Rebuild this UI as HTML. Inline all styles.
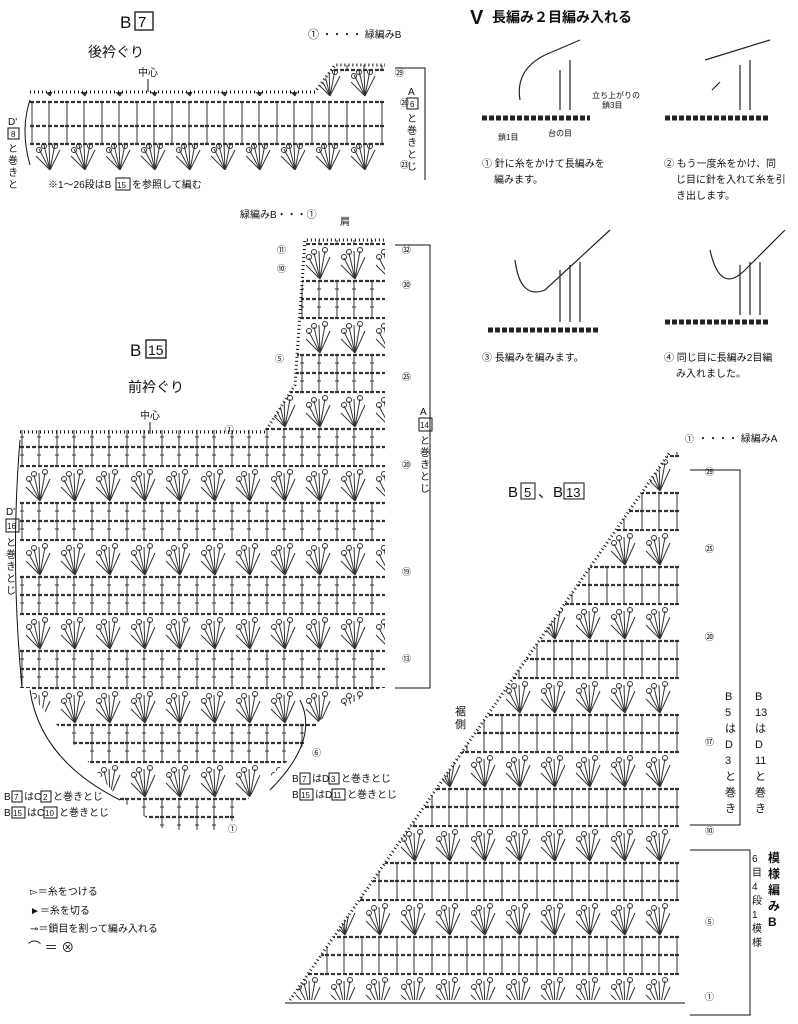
<!DOCTYPE html>
<html><head><meta charset="utf-8"><style>
body{margin:0;background:#fff;width:798px;height:1024px;overflow:hidden}
svg{display:block}
text{font-family:"Liberation Sans","Noto Sans CJK JP",sans-serif;fill:#111}
</style></head><body>
<svg width="798" height="1024" viewBox="0 0 798 1024" xmlns="http://www.w3.org/2000/svg">
<defs>
<pattern id="cp" x="20" y="465" width="35" height="74" patternUnits="userSpaceOnUse">
<g stroke="#333" stroke-width="1" fill="none">
<line x1="0" y1="1" x2="35" y2="1" stroke-dasharray="4 2" stroke-width="2.2"/>
<path d="M20 36 L6 22 M20 36 L9 15 M20 36 L14 10 M20 36 L19 8 M20 36 L25 8 M20 36 L30 14"/>
<circle cx="9" cy="14" r="2.5"/><circle cx="14" cy="9" r="2.5"/><circle cx="25" cy="7" r="2.5"/>
<line x1="0" y1="38" x2="35" y2="38" stroke-dasharray="4 2" stroke-width="2.2"/>
<line x1="0" y1="56" x2="35" y2="56" stroke-dasharray="4 2" stroke-width="2.2"/>
<path d="M2 38 V74 M19 38 V74 M0 46 H4 M17 46 H21 M0 64 H4 M17 64 H21"/>
</g></pattern>
<pattern id="cp2" x="290" y="455" width="35" height="74" patternUnits="userSpaceOnUse">
<g stroke="#333" stroke-width="1" fill="none">
<line x1="0" y1="1" x2="35" y2="1" stroke-dasharray="4 2" stroke-width="2.2"/>
<path d="M20 36 L6 22 M20 36 L9 15 M20 36 L14 10 M20 36 L19 8 M20 36 L25 8 M20 36 L30 14"/>
<circle cx="9" cy="14" r="2.5"/><circle cx="14" cy="9" r="2.5"/><circle cx="25" cy="7" r="2.5"/>
<line x1="0" y1="38" x2="35" y2="38" stroke-dasharray="4 2" stroke-width="2.2"/>
<line x1="0" y1="56" x2="35" y2="56" stroke-dasharray="4 2" stroke-width="2.2"/>
<path d="M2 38 V74 M19 38 V74"/>
</g></pattern>
<pattern id="cp7" x="30" y="100" width="35" height="74" patternUnits="userSpaceOnUse">
<g stroke="#333" stroke-width="1" fill="none">
<line x1="0" y1="2" x2="35" y2="2" stroke-dasharray="4 2" stroke-width="2.2"/>
<path d="M2 2 V26 M19 2 V26"/>
<line x1="0" y1="26" x2="35" y2="26" stroke-dasharray="4 2" stroke-width="2.2"/>
<line x1="0" y1="44" x2="35" y2="44" stroke-dasharray="4 2" stroke-width="2.2"/>
<path d="M2 26 V44 M19 26 V44"/>
<path d="M20 70 L6 56 M20 70 L9 49 M20 70 L14 45 M20 70 L19 44 M20 70 L25 44 M20 70 L30 50"/>
<circle cx="9" cy="50" r="2.5"/><circle cx="14" cy="46" r="2.5"/><circle cx="25" cy="46" r="2.5"/>
</g></pattern>
<clipPath id="c15"><polygon points="20,430 265,430 295,385 305,240 385,240 385,688 20,688"/></clipPath>
</defs>

<!-- B7 -->
<text x="120" y="28" font-size="17">B</text>
<rect x="135" y="12" width="18" height="18" fill="none" stroke="#111" stroke-width="1.3"/><text x="138" y="27" font-size="15">7</text>
<text x="88" y="57" font-size="14">後衿ぐり</text>
<text x="138" y="76" font-size="10">中心</text>
<line x1="148" y1="79" x2="148" y2="92" stroke="#111"/>
<text x="308" y="38" font-size="11">①</text><text x="322" y="38" font-size="10">・・・・ 緑編みB</text>
<polygon points="30,92 315,92 335,65 385,65 385,170 30,170" fill="url(#cp7)"/>
<g stroke="#111" stroke-width="1" fill="none">
<path d="M30 92 H315 L335 65 H385" stroke-dasharray="1 3" stroke-width="3"/>
<path d="M30 100 Q20 130 30 165"/>
<path d="M395 68 H425 V180"/>
</g>
<text x="395" y="76" font-size="9">㉙</text><text x="400" y="106" font-size="9">㉖</text><text x="400" y="168" font-size="9">㉓</text>
<text x="408" y="95" font-size="10">A</text><rect x="407" y="98" width="11" height="11" fill="none" stroke="#111"/><text x="410" y="107" font-size="8">6</text>
<text x="407" y="122" font-size="10">と</text><text x="407" y="134" font-size="10">巻</text><text x="407" y="146" font-size="10">き</text><text x="407" y="158" font-size="10">と</text><text x="407" y="170" font-size="10">じ</text>
<text x="8" y="125" font-size="10">D'</text><rect x="8" y="128" width="11" height="11" fill="none" stroke="#111"/><text x="11" y="137" font-size="8">8</text>
<text x="8" y="152" font-size="10">と</text><text x="8" y="164" font-size="10">巻</text><text x="8" y="176" font-size="10">き</text><text x="8" y="188" font-size="10">と</text>
<text x="48" y="188" font-size="10">※1～26段はB</text><rect x="116" y="178" width="14" height="12" fill="none" stroke="#111"/><text x="117" y="188" font-size="8">15</text><text x="132" y="188" font-size="10">を参照して編む</text>

<!-- B15 -->
<text x="240" y="218" font-size="10">緑編みB・・・①</text>
<text x="340" y="225" font-size="10">肩</text>
<text x="130" y="356" font-size="17">B</text>
<rect x="146" y="340" width="20" height="18" fill="none" stroke="#111" stroke-width="1.3"/><text x="148" y="355" font-size="14">15</text>
<text x="128" y="392" font-size="14">前衿ぐり</text>
<text x="140" y="419" font-size="10">中心</text>
<line x1="150" y1="422" x2="150" y2="434" stroke="#111"/>
<rect x="20" y="230" width="370" height="470" fill="url(#cp)" clip-path="url(#c15)"/>
<polygon points="30,688 380,688 320,720 300,750 255,790 225,830 165,830 120,800 70,740 35,700" fill="url(#cp)"/>
<g stroke="#111" stroke-width="1" fill="none">
<path d="M20 432 H265 L295 385 L305 240 H385" stroke-dasharray="1 3" stroke-width="3"/>
<path d="M20 440 Q10 560 22 688"/>
<path d="M395 245 H430 V688 H395"/>
<path d="M30 690 Q40 760 120 800 M300 700 Q320 740 270 790"/>
</g>
<text x="277" y="253" font-size="9">⑪</text><text x="277" y="272" font-size="9">⑩</text><text x="275" y="362" font-size="9">⑤</text>
<text x="402" y="253" font-size="9">㉜</text><text x="402" y="288" font-size="9">㉚</text><text x="402" y="380" font-size="9">㉕</text>
<text x="402" y="468" font-size="9">⑳</text><text x="402" y="575" font-size="9">⑲</text><text x="402" y="662" font-size="9">⑬</text>
<text x="225" y="433" font-size="9">①</text>
<text x="420" y="415" font-size="10">A</text><rect x="419" y="418" width="13" height="13" fill="none" stroke="#111"/><text x="420" y="428" font-size="8">14</text>
<text x="420" y="444" font-size="10">と</text><text x="420" y="456" font-size="10">巻</text><text x="420" y="468" font-size="10">き</text><text x="420" y="480" font-size="10">と</text><text x="420" y="492" font-size="10">じ</text>
<text x="6" y="515" font-size="10">D'</text><rect x="6" y="519" width="13" height="13" fill="none" stroke="#111"/><text x="7" y="529" font-size="8">16</text>
<text x="6" y="546" font-size="10">と</text><text x="6" y="558" font-size="10">巻</text><text x="6" y="570" font-size="10">き</text><text x="6" y="582" font-size="10">と</text><text x="6" y="594" font-size="10">じ</text>
<text x="312" y="756" font-size="9">⑥</text><text x="228" y="832" font-size="9">①</text>
<text x="4" y="800" font-size="10">B</text><rect x="12" y="791" width="10" height="11" fill="none" stroke="#111"/><text x="14" y="800" font-size="8">7</text><text x="24" y="800" font-size="10">はC</text><rect x="41" y="791" width="10" height="11" fill="none" stroke="#111"/><text x="43" y="800" font-size="8">2</text><text x="53" y="800" font-size="10">と巻きとじ</text>
<text x="4" y="816" font-size="10">B</text><rect x="12" y="807" width="13" height="11" fill="none" stroke="#111"/><text x="13" y="816" font-size="8">15</text><text x="27" y="816" font-size="10">はC</text><rect x="44" y="807" width="13" height="11" fill="none" stroke="#111"/><text x="45" y="816" font-size="8">10</text><text x="59" y="816" font-size="10">と巻きとじ</text>
<text x="292" y="782" font-size="10">B</text><rect x="300" y="773" width="10" height="11" fill="none" stroke="#111"/><text x="302" y="782" font-size="8">7</text><text x="312" y="782" font-size="10">はD</text><rect x="329" y="773" width="10" height="11" fill="none" stroke="#111"/><text x="331" y="782" font-size="8">3</text><text x="341" y="782" font-size="10">と巻きとじ</text>
<text x="292" y="798" font-size="10">B</text><rect x="300" y="789" width="13" height="11" fill="none" stroke="#111"/><text x="301" y="798" font-size="8">15</text><text x="315" y="798" font-size="10">はD</text><rect x="332" y="789" width="13" height="11" fill="none" stroke="#111"/><text x="333" y="798" font-size="8">11</text><text x="347" y="798" font-size="10">と巻きとじ</text>

<!-- legend -->
<text x="30" y="895" font-size="10">▻＝糸をつける</text>
<text x="30" y="914" font-size="10">►＝糸を切る</text>
<text x="30" y="932" font-size="10">⊸＝鎖目を割って編み入れる</text>
<text x="28" y="952" font-size="13">⌒ ＝ ⊗</text>

<!-- right top -->
<text x="470" y="24" font-size="20" font-weight="bold">V</text>
<text x="492" y="22" font-size="14" font-weight="bold">長編み２目編み入れる</text>
<g stroke="#222" stroke-width="1.2" fill="none">
<path d="M482 118 H590" stroke-width="5" stroke-dasharray="5 2"/>
<path d="M560 110 V70 M570 110 V60 M520 100 Q515 70 545 55 L580 40" />
<path d="M665 118 H770" stroke-width="5" stroke-dasharray="5 2"/>
<path d="M740 110 V65 M750 110 V60 M705 60 L770 40 M712 90 L720 82"/>
<path d="M488 330 H600" stroke-width="5" stroke-dasharray="5 2"/>
<path d="M560 322 V270 M570 322 V265 M580 322 V262 M515 260 Q520 300 545 290 L610 230"/>
<path d="M665 322 H770" stroke-width="5" stroke-dasharray="5 2"/>
<path d="M740 315 V265 M750 315 V262 M760 315 V262 M710 250 Q720 295 745 270 L785 230"/>
</g>
<text x="592" y="98" font-size="8">立ち上がりの</text><text x="602" y="108" font-size="8">鎖3目</text>
<text x="498" y="140" font-size="8">鎖1目</text><text x="548" y="136" font-size="8">台の目</text>
<text x="482" y="167" font-size="10">① 針に糸をかけて長編みを</text><text x="494" y="183" font-size="10">編みます。</text>
<text x="664" y="167" font-size="10">② もう一度糸をかけ、同</text><text x="676" y="183" font-size="10">じ目に針を入れて糸を引</text><text x="676" y="199" font-size="10">き出します。</text>
<text x="482" y="361" font-size="10">③ 長編みを編みます。</text>
<text x="664" y="361" font-size="10">④ 同じ目に長編み2目編</text><text x="676" y="377" font-size="10">み入れました。</text>

<!-- B5 B13 -->
<text x="685" y="442" font-size="9">①</text><text x="698" y="442" font-size="10">・・・・ 緑編みA</text>
<text x="508" y="497" font-size="15">B</text><rect x="521" y="483" width="14" height="16" fill="none" stroke="#111"/><text x="524" y="497" font-size="13">5</text>
<text x="538" y="497" font-size="15">、B</text><rect x="564" y="483" width="20" height="16" fill="none" stroke="#111"/><text x="566" y="497" font-size="13">13</text>
<polygon points="290,1000 680,1000 680,452 670,452" fill="url(#cp2)"/>
<path d="M290 1000 L670 452" stroke="#111" stroke-width="3" stroke-dasharray="1 3"/>
<line x1="285" y1="1003" x2="685" y2="1003" stroke="#111"/>
<g stroke="#111" fill="none"><path d="M690 470 H740 V825 H690 M690 850 H750 V1015 H690"/></g>
<text x="455" y="715" font-size="11">裾</text><text x="455" y="728" font-size="11">側</text>
<g font-size="9"><text x="705" y="475">㉙</text><text x="705" y="552">㉕</text><text x="705" y="640">⑳</text><text x="705" y="745">⑰</text><text x="705" y="834">⑩</text><text x="705" y="925">⑤</text><text x="705" y="1000">①</text></g>
<g font-size="11">
<text x="725" y="700">B</text><text x="725" y="716">5</text><text x="725" y="732">は</text><text x="725" y="748">D</text><text x="725" y="764">3</text><text x="725" y="780">と</text><text x="725" y="796">巻</text><text x="725" y="812">き</text>
<text x="755" y="700">B</text><text x="755" y="716">13</text><text x="755" y="732">は</text><text x="755" y="748">D</text><text x="755" y="764">11</text><text x="755" y="780">と</text><text x="755" y="796">巻</text><text x="755" y="812">き</text>
</g>
<g font-size="12" font-weight="bold"><text x="768" y="862">模</text><text x="768" y="878">様</text><text x="768" y="894">編</text><text x="768" y="910">み</text><text x="768" y="926">B</text></g>
<g font-size="10"><text x="752" y="862">6</text><text x="752" y="876">目</text><text x="752" y="890">4</text><text x="752" y="904">段</text><text x="752" y="918">1</text><text x="752" y="932">模</text><text x="752" y="946">様</text></g>
</svg>
</body></html>
